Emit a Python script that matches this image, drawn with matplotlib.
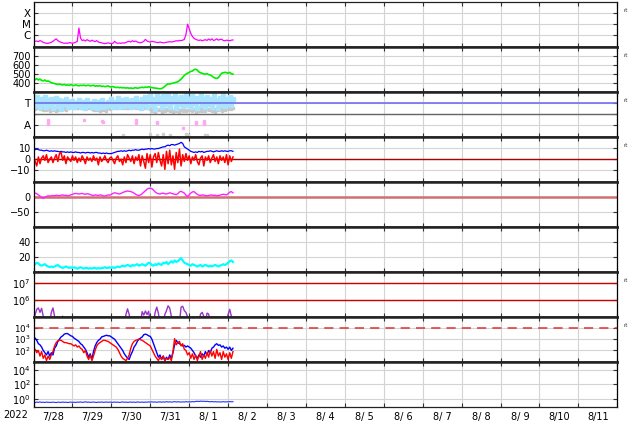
import numpy as np
import matplotlib.pyplot as plt
from matplotlib.ticker import FixedLocator, NullLocator, FixedFormatter, LogFormatterSciNotation

plt.rcParams['font.family'] = ['DejaVu Sans']
plt.rcParams['font.size'] = 7

# --- datos: una muestra por hora desde 7/28 00:00 ---
year_label = '2022'
day_labels = ['7/28', '7/29', '7/30', '7/31', '8/ 1', '8/ 2', '8/ 3', '8/ 4',
              '8/ 5', '8/ 6', '8/ 7', '8/ 8', '8/ 9', '8/10', '8/11']

# rayos X (en 1e-7 W/m2)
xray = [2.5, 3, 3.2, 2.8, 3.5, 3, 2.4, 2.2, 2, 2, 2.2, 2.5,
        3, 4, 5, 3.5, 2.8, 2.5, 2.2, 2, 2.1, 2, 2.3, 2.2,
        2, 2.2, 2.5, 3, 46, 6, 3.5, 4, 3.2, 4.2, 3.5, 3,
        3.8, 3.2, 2.8, 3.5, 2.6, 2.4, 2.2, 2, 1.9, 2, 2.2, 2,
        1.9, 2, 3, 2.2, 2, 2.1, 2, 2.2, 2.1, 2.4, 2.8, 3,
        2.6, 3.4, 2.8, 3.2, 2.6, 2.4, 2.2, 2.5, 3, 4.5, 3.2, 2.8,
        2.6, 3, 2.8, 2.6, 2.4, 2.3, 2.6, 2.4, 2.2, 2.3, 2.5, 2.6,
        2.8, 2.6, 2.8, 3, 3.4, 3.2, 3.6, 3.5, 3.8, 4.5, 12, 100,
        40, 15, 8, 5.5, 4.5, 4, 3.6, 4, 3.4, 3.8, 4.2, 3.6,
        4.8, 3.8, 5, 3.6, 4, 5, 3.8, 4.4, 4.6, 3.6, 3.4, 3.8,
        3.6, 3.4, 3.8, 4]

# velocidad del viento solar (km/s)
wind = [420, 435, 445, 430, 440, 425, 420, 430, 415, 420, 410, 400,
        395, 390, 385, 380, 385, 378, 375, 380, 372, 376, 370, 378,
        372, 368, 375, 370, 365, 372, 368, 374, 366, 370, 372, 365,
        368, 372, 360, 366, 362, 368, 358, 362, 356, 360, 365, 355,
        352, 358, 350, 346, 350, 344, 348, 342, 345, 340, 344, 338,
        342, 336, 340, 345, 338, 342, 346, 350, 345, 352, 348, 355,
        350, 346, 342, 340, 338, 335, 332, 336, 345, 360, 375, 388,
        385, 390, 395, 400, 405, 410, 425, 440, 460, 480, 495, 505,
        515, 525, 530, 545, 550, 540, 520, 510, 505, 498, 495, 500,
        490, 485, 475, 460, 452, 448, 455, 480, 505, 510, 515, 512,
        505, 515, 500, 495]

# sector IMF (grados)
phi_light = [300, 250, 320, 270, 240, 300, 260, 315, 235, 290, 250, 305,
             230, 280, 310, 245, 295, 225, 285, 260, 300, 240, 275, 250,
             285, 240, 270, 255, 295, 235, 265, 280, 230, 290, 250, 270,
             240, 285, 260, 230, 275, 250, 295, 235, 265, 245, 280, 255,
             300, 240, 280, 260, 310, 235, 270, 290, 245, 300, 255, 285,
             240, 295, 265, 310, 245, 280, 230, 300, 260, 315, 240, 285,
             330, 250, 300, 225, 345, 270, 310, 235, 325, 260, 295, 340,
             240, 310, 275, 335, 230, 300, 260, 320, 245, 290, 335, 255,
             300, 240, 325, 270, 310, 230, 290, 340, 255, 300, 235, 320,
             265, 305, 240, 330, 275, 295, 230, 310, 260, 340, 245, 300,
             270, 320, 250, 300]
phi_gray = [240, 225, 245, 230, 220, 240, 215, 235, 210, 225, 205, 230,
            215, 235, 208, 225, 212, 238, 220, 230, 215, 240, 228, 235,
            240, 232, 238, 228, 236, 230, 240, 226, 234, 238, 230, 236,
            225, 215, 228, 210, 222, 205, 218, 212, 225, 208, 230, 220,
            238, 232, 240, 228, 236, 234, 240, 230, 238, 226, 240, 232,
            236, 228, 240, 230, 234, 226, 238, 230, 236, 228, 240, 232,
            220, 205, 225, 200, 215, 210, 222, 198, 218, 206, 225, 212,
            208, 222, 200, 215, 205, 220, 198, 212, 206, 224, 202, 215,
            210, 222, 204, 218, 200, 214, 208, 220, 202, 216, 206, 218,
            212, 224, 206, 218, 200, 214, 210, 226, 204, 220, 212, 226,
            218, 230, 222, 228]
pink_hours = [9, 9, 9, 31, 42, 43, 63, 63, 76, 76, 92, 100, 100, 105, 105, 105]
pink_phi = [130, 115, 105, 135, 125, 115, 130, 110, 120, 110, 70, 120, 105, 125, 110, 100]
low_hours = [55, 72, 76, 80, 84, 94, 95, 106, 107]
low_phi = [15, 20, 12, 18, 15, 20, 14, 16, 12]

# campo magnetico (nT)
bt = [8, 8.5, 9, 8.5, 8, 8, 7.5, 7.5, 8, 7.5, 7, 7.5,
      7, 7.5, 7, 7, 6.5, 7, 6.5, 6.5, 6, 6.5, 6, 6.5,
      6, 6, 6.5, 6, 6, 5.5, 6, 6, 5.5, 6, 6, 5.5,
      6, 5.5, 6, 6, 5.5, 5.5, 5, 5.5, 5, 5.5, 5, 5,
      5, 5.5, 6, 6.5, 7, 7, 7.5, 7, 7.5, 7, 7.5, 8,
      7.5, 8, 8, 8.5, 8, 8, 8.5, 9, 8.5, 9, 9, 9.5,
      9, 9.5, 9, 9, 9.5, 9.5, 10, 10.5, 11, 11, 12, 12.5,
      12, 13, 13, 12.5, 13, 13.5, 14, 15, 14, 11, 10, 9,
      8, 7, 6.5, 6, 6.5, 6, 7, 6.5, 7, 6, 6.5, 7,
      7, 7.5, 7, 6.5, 7, 7.5, 7, 7, 7.5, 7, 7.5, 7,
      7, 7.5, 7.5, 7]
bz = [3, -2, -6, 2, -4, 1, 3, -1, 4, -3, 0, 2,
      -3, 1, 4, -2, 5, 6, -1, 3, -4, 2, 0, -2,
      3, -1, 2, -3, 1, -2, 3, 0, -4, 2, -1, 1,
      -2, 3, -1, 1, -5, 2, -2, 0, 3, -1, -3, 1,
      2, -1, -4, 1, 3, -2, 0, -5, 2, -3, 4, 1,
      -2, 3, -4, 2, -1, 4, -6, 3, -2, -8, 5, -3,
      4, -7, 2, 5, -3, 6, -1, -6, 4, -9, 7, -4,
      8, -5, 3, -9, 6, -3, 9, -6, 4, -2, 5, -1,
      3, -4, 2, -1, 4, -2, -5, 1, 3, -6, 2, -1,
      3, -3, 1, 4, -2, 2, -4, 3, -1, 2, -3, 4,
      -5, 3, -2, 2]

# indice Dst (nT)
dst = [10, 12, 10, 6, 2, -3, -5, -2, 1, 3, 2, 3,
       4, 3, 5, 4, 3, 5, 6, 4, 5, 3, 4, 6,
       8, 10, 11, 10, 9, 10, 11, 9, 8, 10, 9, 7,
       5, 4, 6, 5, 4, 6, 5, 3, 2, 4, 6, 5,
       8, 11, 13, 12, 10, 9, 11, 14, 16, 18, 19, 18,
       17, 15, 12, 8, 5, 4, 6, 10, 15, 20, 25, 28,
       28, 27, 22, 16, 12, 10, 9, 11, 12, 10, 9, 11,
       13, 11, 10, 8, 7, 10, 16, 18, 15, 12, 5, 1,
       6, 12, 16, 17, 12, 8, 5, 4, 6, 5, 4, 3,
       4, 5, 6, 4, 5, 3, 4, 5, 7, 8, 7, 6,
       10, 15, 17, 13]

# densidad (/cc)
density = [9, 10, 12, 11, 9, 8, 9, 10, 8, 7, 6, 7,
           6, 7, 8, 9, 7, 6, 5, 6, 7, 6, 5, 6,
           5, 6, 5, 4, 5, 6, 5, 4, 5, 5, 4, 5,
           4, 5, 5, 4, 5, 4, 5, 5, 6, 5, 5, 6,
           5, 6, 5, 6, 7, 6, 7, 8, 7, 8, 9, 8,
           7, 9, 8, 9, 10, 8, 9, 10, 9, 8, 10, 12,
           11, 9, 8, 10, 9, 11, 10, 9, 12, 11, 13, 10,
           12, 14, 12, 15, 13, 14, 16, 18, 15, 12, 11, 10,
           9, 8, 10, 9, 8, 7, 8, 9, 7, 8, 9, 8,
           7, 8, 7, 8, 9, 8, 7, 8, 9, 10, 9, 10,
           12, 14, 15, 13]

# electrones (>2MeV)
electron = [5e4, 1.5e5, 3e5, 3.6e5, 2e5, 3.4e5, 1.2e5, 5e4, 5e4, 5e4, 5e4, 2e5,
            3.6e5, 1.2e5, 5e4, 5e4, 5e4, 5e4, 1.2e5, 5e4, 5e4, 5e4, 5e4, 5e4,
            5e4, 5e4, 5e4, 5e4, 5e4, 5e4, 5e4, 5e4, 5e4, 5e4, 5e4, 5e4,
            5e4, 5e4, 5e4, 5e4, 5e4, 1.1e5, 5e4, 5e4, 5e4, 5e4, 5e4, 5e4,
            5e4, 5e4, 5e4, 5e4, 1.1e5, 5e4, 5e4, 5e4, 5e4, 1.5e5, 3.2e5, 1.5e5,
            5e4, 5e4, 5e4, 5e4, 5e4, 5e4, 5e4, 2.2e5, 1.4e5, 2.4e5, 1.5e5, 2.3e5,
            5e4, 5e4, 5e4, 2e5, 4e5, 1.8e5, 5e4, 5e4, 5e4, 1.5e5, 2.5e5, 4.8e5,
            3.5e5, 1.2e5, 5e4, 5e4, 5e4, 5e4, 5e4, 4e5, 4.5e5, 2.5e5, 2e5, 1.1e5,
            5e4, 5e4, 1.1e5, 5e4, 5e4, 5e4, 5e4, 1.6e5, 2e5, 1.2e5, 5e4, 1.8e5,
            1.6e5, 5e4, 5e4, 5e4, 5e4, 5e4, 5e4, 5e4, 5e4, 5e4, 5e4, 5e4,
            1.5e5, 3e5, 1.2e5, 5e4]

# protones (log10)
proton_hi_log = [3.2, 3.1, 2.9, 2.6, 2.5, 2.3, 2.0, 1.8, 1.6, 1.9, 1.5, 1.8,
                 1.6, 2.2, 2.4, 2.8, 3.0, 3.2, 3.3, 3.45, 3.5, 3.5, 3.4, 3.3,
                 3.25, 3.1, 3.0, 2.9, 2.8, 2.6, 2.5, 2.3, 2.1, 1.8, 1.4, 1.7,
                 1.2, 1.9, 2.4, 2.7, 2.9, 3.0, 3.2, 3.25, 3.3, 3.35, 3.3, 3.3,
                 3.2, 3.1, 3.0, 2.8, 2.6, 2.4, 2.2, 2.0, 1.7, 1.5, 1.3, 1.2,
                 1.6, 1.9, 2.3, 2.5, 2.8, 3.0, 3.1, 3.2, 3.4, 3.45, 3.4, 3.3,
                 3.25, 3.0, 2.6, 2.2, 1.8, 1.4, 1.6, 1.2, 1.5, 1.1, 1.4, 1.2,
                 1.6, 1.3, 1.8, 2.5, 2.9, 2.7, 2.6, 2.5, 2.4, 2.45, 2.3, 2.4,
                 2.3, 2.2, 2.0, 1.8, 1.5, 1.3, 1.6, 1.4, 1.7, 1.5, 1.9, 1.6,
                 2.0, 1.8, 2.2, 2.3, 2.5, 2.6, 2.45, 2.5, 2.3, 2.4, 2.2, 2.3,
                 2.1, 2.3, 2.0, 2.2]
proton_lo_log = [2.2, 2.1, 1.8, 2.0, 1.5, 1.9, 1.3, 1.6, 1.1, 1.5, 1.2, 1.6,
                 1.9, 2.4, 2.7, 2.85, 2.9, 2.9, 2.8, 2.7, 2.7, 2.65, 2.6, 2.6,
                 2.5, 2.4, 2.5, 2.3, 2.4, 2.2, 2.1, 1.8, 2.0, 1.5, 1.2, 1.6,
                 1.1, 1.5, 2.0, 2.4, 2.6, 2.7, 2.8, 2.9, 2.9, 2.85, 2.8, 2.7,
                 2.6, 2.5, 2.4, 2.3, 2.1, 1.8, 1.5, 1.3, 1.2, 1.1, 1.3, 1.6,
                 2.2, 2.6, 2.8, 2.9, 2.95, 3.0, 2.95, 2.9, 2.8, 2.7, 2.6, 2.5,
                 2.4, 2.1, 1.8, 1.5, 1.3, 1.1, 1.4, 1.2, 1.5, 1.1, 1.3, 1.2,
                 1.4, 1.1, 1.9, 3.05, 2.5, 2.7, 2.8, 2.4, 2.6, 2.1, 2.0, 1.6,
                 1.8, 1.3, 1.7, 1.2, 1.6, 1.1, 1.5, 1.9, 1.2, 1.6, 1.3, 1.8,
                 1.4, 2.0, 1.5, 1.9, 1.3, 2.1, 1.5, 1.8, 1.2, 1.9, 1.4, 1.7,
                 1.2, 1.8, 1.3, 1.9]

# panel inferior
bottom_flux = [0.36, 0.33, 0.38, 0.35, 0.40, 0.34, 0.37, 0.33, 0.39, 0.35, 0.36, 0.34,
               0.38, 0.35, 0.33, 0.37, 0.36, 0.34, 0.39, 0.35, 0.37, 0.33, 0.36, 0.38,
               0.35, 0.37, 0.34, 0.38, 0.36, 0.40, 0.35, 0.37, 0.42, 0.36, 0.38, 0.35,
               0.37, 0.39, 0.36, 0.34, 0.38, 0.36, 0.40, 0.35, 0.37, 0.39, 0.36, 0.38,
               0.37, 0.35, 0.39, 0.36, 0.38, 0.34, 0.37, 0.40, 0.36, 0.38, 0.35, 0.37,
               0.39, 0.36, 0.38, 0.35, 0.40, 0.37, 0.36, 0.39, 0.35, 0.38, 0.37, 0.40,
               0.38, 0.42, 0.37, 0.40, 0.36, 0.39, 0.41, 0.37, 0.40, 0.38, 0.43, 0.39,
               0.41, 0.38, 0.40, 0.44, 0.39, 0.42, 0.40, 0.38, 0.41, 0.39, 0.43, 0.40,
               0.42, 0.40, 0.44, 0.41, 0.46, 0.50, 0.45, 0.52, 0.48, 0.50, 0.46, 0.49,
               0.44, 0.42, 0.45, 0.41, 0.43, 0.40, 0.42, 0.39, 0.41, 0.43, 0.40, 0.42,
               0.41, 0.44, 0.42, 0.43]

hours = np.arange(len(xray))
days = hours / 24.0

# --- figura ---
W, H = 634, 424
fig, axes = plt.subplots(9, 1, sharex=True, figsize=(W / 100, H / 100), dpi=100)
fig.subplots_adjust(left=33.5 / W, right=617.3 / W, top=1 - 1.7 / H,
                    bottom=1 - 406.7 / H, hspace=0)

GRID = '#d4d4d4'
for i, ax in enumerate(axes):
    ax.set_xlim(0, 15)
    ax.xaxis.set_major_locator(FixedLocator(np.arange(0, 16)))
    ax.xaxis.set_minor_locator(FixedLocator(np.arange(0.5, 15, 1)))
    ax.grid(True, which='major', color=GRID, linewidth=0.8)
    ax.set_axisbelow(True)
    ax.tick_params(which='major', direction='in', length=3, top=True, right=True,
                   labelbottom=False, pad=2, width=0.8, color='#333333')
    ax.tick_params(which='minor', length=0, top=False, right=False)
    for s in ('left', 'right'):
        ax.spines[s].set_linewidth(0.9)
    ax.spines['top'].set_linewidth(1.8 if i > 0 else 0.9)
    ax.spines['bottom'].set_linewidth(1.8 if i < 8 else 0.9)
    for s in ('top', 'bottom'):
        ax.spines[s].set_color('#222222')

# panel 1: rayos X
ax = axes[0]
ax.set_yscale('log')
ax.set_ylim(1e-7, 1e-3)
ax.plot(days, np.array(xray) * 1e-7, color='#ff00ff', lw=0.9)
ax.yaxis.set_major_locator(FixedLocator([1e-6, 1e-5, 1e-4]))
ax.yaxis.set_major_formatter(FixedFormatter(['C', 'M', 'X']))
ax.yaxis.set_minor_locator(NullLocator())
ax.tick_params(axis='y', labelsize=7.5)

# panel 2: viento solar
ax = axes[1]
ax.set_ylim(300, 800)
ax.plot(days, wind, color='#00ee00', lw=1.2)
ax.set_yticks([400, 500, 600, 700])

# panel 3: sector
ax = axes[2]
ax.set_ylim(0, 360)
ax.plot(days, phi_gray, color='#c8c8c8', lw=1.5, marker='s', ms=2)
ax.plot(days, phi_light, color='#a8e4ff', lw=1.8, marker='s', ms=2.8)
ax.plot(np.array(pink_hours) / 24.0, pink_phi, 's', color='#ffaaee', ms=2)
ax.plot(np.array(low_hours) / 24.0, low_phi, 's', color='#d0d0d0', ms=1.5)
ax.axhline(270, color='#7070ee', lw=1.2)
ax.axhline(180, color='#666666', lw=1.0)
ax.set_yticks([90, 180, 270])
ax.set_yticklabels(['A', '', 'T'])
ax.tick_params(axis='y', labelsize=7.5)

# panel 4: Bt / Bz
ax = axes[3]
ax.set_ylim(-20, 20)
ax.axhline(0, color='#aa0000', lw=1.0)
ax.plot(days, bt, color='#0000ff', lw=0.9)
ax.plot(days, bz, color='#ff0000', lw=1.1)
ax.set_yticks([-10, 0, 10])

# panel 5: Dst
ax = axes[4]
ax.set_ylim(-100, 50)
ax.axhline(0, color='#d07070', lw=1.8)
ax.plot(days, dst, color='#ff22ff', lw=1.0)
ax.set_yticks([-50, 0])

# panel 6: densidad
ax = axes[5]
ax.set_ylim(0, 60)
ax.plot(days, density, color='#00ffff', lw=1.6)
ax.set_yticks([20, 40])

# panel 7: electrones
ax = axes[6]
ax.set_yscale('log')
ax.set_ylim(10 ** 5.05, 10 ** 7.65)
ax.axhline(1e7, color='#cc0000', lw=1.0)
ax.axhline(1e6, color='#cc0000', lw=1.0)
ax.plot(days, electron, color='#9933cc', lw=1.0)
ax.yaxis.set_major_locator(FixedLocator([1e6, 1e7]))
ax.yaxis.set_minor_locator(NullLocator())
ax.yaxis.set_major_formatter(LogFormatterSciNotation())

# panel 8: protones
ax = axes[7]
ax.set_yscale('log')
ax.set_ylim(1e1, 1e5)
ax.axhline(1e4, color='#dd3333', lw=1.1, dashes=(6, 4))
ax.plot(days, 10 ** np.array(proton_hi_log), color='#0000ff', lw=1.0)
ax.plot(days, 10 ** np.array(proton_lo_log), color='#ff0000', lw=1.0)
ax.yaxis.set_major_locator(FixedLocator([1e2, 1e3, 1e4]))
ax.yaxis.set_minor_locator(NullLocator())
ax.yaxis.set_major_formatter(LogFormatterSciNotation())
ax.tick_params(axis='y', labelsize=6.3)

# panel 9
ax = axes[8]
ax.set_yscale('log')
ax.set_ylim(10 ** -1.05, 10 ** 5.1)
ax.plot(days, bottom_flux, color='#2233ff', lw=0.8)
ax.yaxis.set_major_locator(FixedLocator([1e0, 1e2, 1e4]))
ax.yaxis.set_minor_locator(NullLocator())
ax.yaxis.set_major_formatter(LogFormatterSciNotation())
ax.xaxis.set_minor_formatter(FixedFormatter(day_labels))
ax.tick_params(axis='x', which='minor', labelbottom=True, pad=4, labelsize=7)
ax.text(-0.031, -0.19, year_label, transform=ax.transAxes, ha='center',
        va='center', fontsize=7)

# etiquetas "rt"
for i in (0, 1, 2, 3, 6, 7):
    axes[i].text(1.01, 0.80, 'rt', transform=axes[i].transAxes, fontsize=4,
                 ha='left', va='center', color='#333333')

fig.savefig('out.png', dpi=100)
